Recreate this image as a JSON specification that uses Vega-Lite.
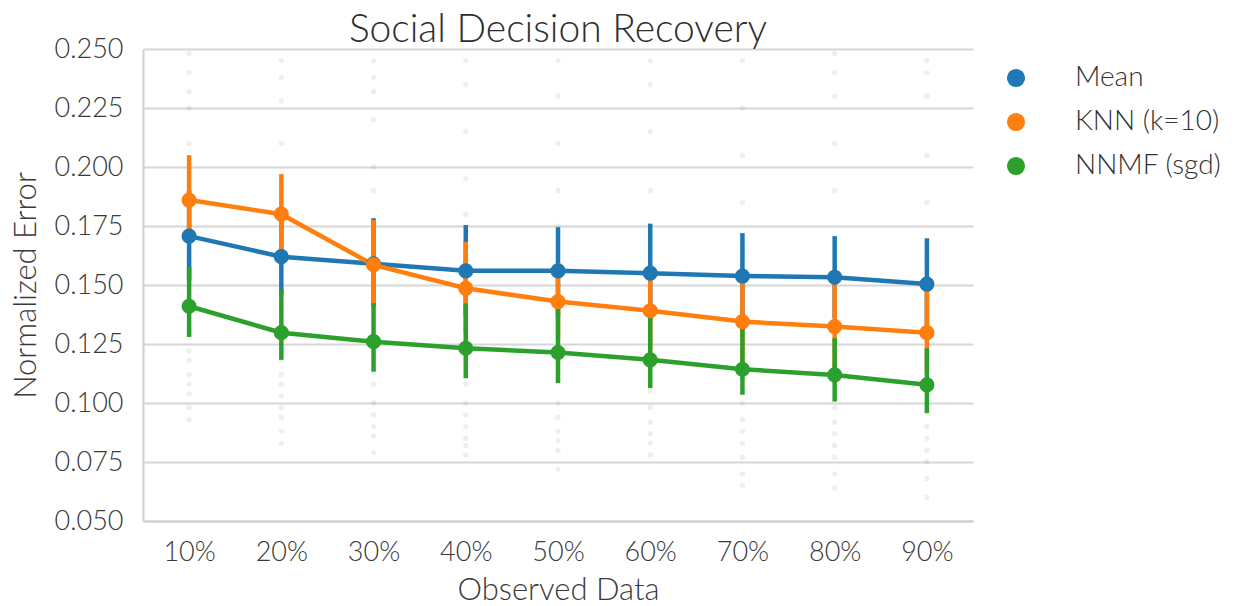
{
  "$schema": "https://vega.github.io/schema/vega-lite/v6.json",
  "width": 830,
  "height": 472,
  "autosize": {"type": "none"},
  "padding": {"left": 143, "top": 49, "right": 268, "bottom": 85},
  "background": "white",
  "title": {"text": "Social Decision Recovery", "fontSize": 39, "font": "Lato", "fontWeight": 300, "color": "#2e2e2e", "offset": 7, "dy": 22, "frame": "group"},
  "datasets": {
    "summary": [
      {"obs": "10%", "method": "Mean", "value": 0.1707, "lo": 0.152, "hi": 0.190},
      {"obs": "20%", "method": "Mean", "value": 0.1620, "lo": 0.146, "hi": 0.180},
      {"obs": "30%", "method": "Mean", "value": 0.1590, "lo": 0.141, "hi": 0.1783},
      {"obs": "40%", "method": "Mean", "value": 0.1560, "lo": 0.137, "hi": 0.1754},
      {"obs": "50%", "method": "Mean", "value": 0.1560, "lo": 0.137, "hi": 0.1745},
      {"obs": "60%", "method": "Mean", "value": 0.1550, "lo": 0.135, "hi": 0.1760},
      {"obs": "70%", "method": "Mean", "value": 0.1538, "lo": 0.136, "hi": 0.1720},
      {"obs": "80%", "method": "Mean", "value": 0.1533, "lo": 0.136, "hi": 0.1707},
      {"obs": "90%", "method": "Mean", "value": 0.1504, "lo": 0.132, "hi": 0.1698},
      {"obs": "10%", "method": "KNN (k=10)", "value": 0.1860, "lo": 0.1704, "hi": 0.2050},
      {"obs": "20%", "method": "KNN (k=10)", "value": 0.1800, "lo": 0.1640, "hi": 0.1970},
      {"obs": "30%", "method": "KNN (k=10)", "value": 0.1585, "lo": 0.1422, "hi": 0.1775},
      {"obs": "40%", "method": "KNN (k=10)", "value": 0.1486, "lo": 0.1300, "hi": 0.1683},
      {"obs": "50%", "method": "KNN (k=10)", "value": 0.1430, "lo": 0.1270, "hi": 0.1592},
      {"obs": "60%", "method": "KNN (k=10)", "value": 0.1391, "lo": 0.1230, "hi": 0.1556},
      {"obs": "70%", "method": "KNN (k=10)", "value": 0.1345, "lo": 0.1170, "hi": 0.1520},
      {"obs": "80%", "method": "KNN (k=10)", "value": 0.1324, "lo": 0.1150, "hi": 0.1514},
      {"obs": "90%", "method": "KNN (k=10)", "value": 0.1298, "lo": 0.1130, "hi": 0.1507},
      {"obs": "10%", "method": "NNMF (sgd)", "value": 0.1410, "lo": 0.1280, "hi": 0.1577},
      {"obs": "20%", "method": "NNMF (sgd)", "value": 0.1298, "lo": 0.1183, "hi": 0.1479},
      {"obs": "30%", "method": "NNMF (sgd)", "value": 0.1260, "lo": 0.1133, "hi": 0.1423},
      {"obs": "40%", "method": "NNMF (sgd)", "value": 0.1232, "lo": 0.1105, "hi": 0.1422},
      {"obs": "50%", "method": "NNMF (sgd)", "value": 0.1214, "lo": 0.1084, "hi": 0.1400},
      {"obs": "60%", "method": "NNMF (sgd)", "value": 0.1183, "lo": 0.1063, "hi": 0.1380},
      {"obs": "70%", "method": "NNMF (sgd)", "value": 0.1143, "lo": 0.1035, "hi": 0.1324},
      {"obs": "80%", "method": "NNMF (sgd)", "value": 0.1119, "lo": 0.1006, "hi": 0.1275},
      {"obs": "90%", "method": "NNMF (sgd)", "value": 0.1077, "lo": 0.0957, "hi": 0.1232}
    ],
    "raw": [
      {"obs": "10%", "value": 0.248}, {"obs": "10%", "value": 0.240}, {"obs": "10%", "value": 0.232}, {"obs": "10%", "value": 0.225}, {"obs": "10%", "value": 0.210}, {"obs": "10%", "value": 0.195}, {"obs": "10%", "value": 0.170}, {"obs": "10%", "value": 0.160}, {"obs": "10%", "value": 0.130}, {"obs": "10%", "value": 0.122}, {"obs": "10%", "value": 0.118}, {"obs": "10%", "value": 0.112}, {"obs": "10%", "value": 0.108}, {"obs": "10%", "value": 0.104}, {"obs": "10%", "value": 0.098}, {"obs": "10%", "value": 0.093},
      {"obs": "20%", "value": 0.245}, {"obs": "20%", "value": 0.238}, {"obs": "20%", "value": 0.228}, {"obs": "20%", "value": 0.210}, {"obs": "20%", "value": 0.190}, {"obs": "20%", "value": 0.185}, {"obs": "20%", "value": 0.165}, {"obs": "20%", "value": 0.140}, {"obs": "20%", "value": 0.118}, {"obs": "20%", "value": 0.112}, {"obs": "20%", "value": 0.108}, {"obs": "20%", "value": 0.103}, {"obs": "20%", "value": 0.098}, {"obs": "20%", "value": 0.094}, {"obs": "20%", "value": 0.088}, {"obs": "20%", "value": 0.083},
      {"obs": "30%", "value": 0.245}, {"obs": "30%", "value": 0.238}, {"obs": "30%", "value": 0.232}, {"obs": "30%", "value": 0.220}, {"obs": "30%", "value": 0.200}, {"obs": "30%", "value": 0.190}, {"obs": "30%", "value": 0.170}, {"obs": "30%", "value": 0.150}, {"obs": "30%", "value": 0.120}, {"obs": "30%", "value": 0.113}, {"obs": "30%", "value": 0.108}, {"obs": "30%", "value": 0.100}, {"obs": "30%", "value": 0.095}, {"obs": "30%", "value": 0.090}, {"obs": "30%", "value": 0.086}, {"obs": "30%", "value": 0.079},
      {"obs": "40%", "value": 0.245}, {"obs": "40%", "value": 0.235}, {"obs": "40%", "value": 0.215}, {"obs": "40%", "value": 0.195}, {"obs": "40%", "value": 0.180}, {"obs": "40%", "value": 0.160}, {"obs": "40%", "value": 0.130}, {"obs": "40%", "value": 0.115}, {"obs": "40%", "value": 0.108}, {"obs": "40%", "value": 0.100}, {"obs": "40%", "value": 0.095}, {"obs": "40%", "value": 0.090}, {"obs": "40%", "value": 0.085}, {"obs": "40%", "value": 0.082}, {"obs": "40%", "value": 0.078},
      {"obs": "50%", "value": 0.245}, {"obs": "50%", "value": 0.230}, {"obs": "50%", "value": 0.210}, {"obs": "50%", "value": 0.190}, {"obs": "50%", "value": 0.175}, {"obs": "50%", "value": 0.150}, {"obs": "50%", "value": 0.120}, {"obs": "50%", "value": 0.110}, {"obs": "50%", "value": 0.100}, {"obs": "50%", "value": 0.094}, {"obs": "50%", "value": 0.088}, {"obs": "50%", "value": 0.084}, {"obs": "50%", "value": 0.080}, {"obs": "50%", "value": 0.072},
      {"obs": "60%", "value": 0.245}, {"obs": "60%", "value": 0.235}, {"obs": "60%", "value": 0.215}, {"obs": "60%", "value": 0.190}, {"obs": "60%", "value": 0.170}, {"obs": "60%", "value": 0.140}, {"obs": "60%", "value": 0.115}, {"obs": "60%", "value": 0.105}, {"obs": "60%", "value": 0.098}, {"obs": "60%", "value": 0.092}, {"obs": "60%", "value": 0.087}, {"obs": "60%", "value": 0.083}, {"obs": "60%", "value": 0.078},
      {"obs": "70%", "value": 0.245}, {"obs": "70%", "value": 0.225}, {"obs": "70%", "value": 0.205}, {"obs": "70%", "value": 0.185}, {"obs": "70%", "value": 0.165}, {"obs": "70%", "value": 0.130}, {"obs": "70%", "value": 0.110}, {"obs": "70%", "value": 0.100}, {"obs": "70%", "value": 0.093}, {"obs": "70%", "value": 0.088}, {"obs": "70%", "value": 0.083}, {"obs": "70%", "value": 0.077}, {"obs": "70%", "value": 0.070}, {"obs": "70%", "value": 0.065},
      {"obs": "80%", "value": 0.248}, {"obs": "80%", "value": 0.240}, {"obs": "80%", "value": 0.230}, {"obs": "80%", "value": 0.210}, {"obs": "80%", "value": 0.190}, {"obs": "80%", "value": 0.170}, {"obs": "80%", "value": 0.125}, {"obs": "80%", "value": 0.105}, {"obs": "80%", "value": 0.098}, {"obs": "80%", "value": 0.092}, {"obs": "80%", "value": 0.087}, {"obs": "80%", "value": 0.082}, {"obs": "80%", "value": 0.077}, {"obs": "80%", "value": 0.070}, {"obs": "80%", "value": 0.064},
      {"obs": "90%", "value": 0.245}, {"obs": "90%", "value": 0.240}, {"obs": "90%", "value": 0.230}, {"obs": "90%", "value": 0.205}, {"obs": "90%", "value": 0.185}, {"obs": "90%", "value": 0.160}, {"obs": "90%", "value": 0.120}, {"obs": "90%", "value": 0.105}, {"obs": "90%", "value": 0.097}, {"obs": "90%", "value": 0.090}, {"obs": "90%", "value": 0.085}, {"obs": "90%", "value": 0.080}, {"obs": "90%", "value": 0.075}, {"obs": "90%", "value": 0.068}, {"obs": "90%", "value": 0.060}
    ]
  },
  "encoding": {
    "x": {
      "field": "obs", "type": "ordinal",
      "sort": ["10%", "20%", "30%", "40%", "50%", "60%", "70%", "80%", "90%"],
      "scale": {"type": "point", "padding": 0.5},
      "axis": {"title": "Observed Data", "labelAngle": 0, "labelFontSize": 27, "titleFontSize": 31, "labelFontWeight": 300, "titleFontWeight": 300, "ticks": false, "labelPadding": 18, "titlePadding": 10, "domainColor": "#d0d0d0", "domainWidth": 2, "grid": false}
    }
  },
  "layer": [
    {
      "data": {"name": "raw"},
      "mark": {"type": "circle", "size": 28, "color": "#8fae92", "opacity": 0.18},
      "encoding": {
        "y": {"field": "value", "type": "quantitative", "scale": {"domain": [0.05, 0.25], "zero": false, "nice": false},
          "axis": {"title": "Normalized Error", "values": [0.05, 0.075, 0.1, 0.125, 0.15, 0.175, 0.2, 0.225, 0.25], "format": ".3f", "labelFontSize": 27, "titleFontSize": 31, "labelFontWeight": 300, "titleFontWeight": 300, "ticks": false, "labelPadding": 20, "titlePadding": 12, "gridColor": "#d6d6d6", "gridWidth": 2, "domainColor": "#d0d0d0", "domainWidth": 2}}
      }
    },
    {
      "data": {"name": "summary"},
      "mark": {"type": "rule", "strokeWidth": 4.5},
      "encoding": {
        "y": {"field": "lo", "type": "quantitative"},
        "y2": {"field": "hi"},
        "color": {"field": "method", "type": "nominal", "scale": {"domain": ["Mean", "KNN (k=10)", "NNMF (sgd)"], "range": ["#1f77b4", "#ff7f0e", "#2ca02c"]}}
      }
    },
    {
      "data": {"name": "summary"},
      "mark": {"type": "line", "strokeWidth": 4.5},
      "encoding": {
        "y": {"field": "value", "type": "quantitative"},
        "color": {"field": "method", "type": "nominal"}
      }
    },
    {
      "data": {"name": "summary"},
      "mark": {"type": "circle", "size": 230, "opacity": 1},
      "encoding": {
        "y": {"field": "value", "type": "quantitative"},
        "color": {"field": "method", "type": "nominal"}
      }
    }
  ],
  "resolve": {"scale": {"color": "shared", "y": "shared"}},
  "config": {
    "font": "Lato",
    "view": {"stroke": null},
    "axis": {"labelFont": "Lato", "titleFont": "Lato", "labelColor": "#3a3a3a", "titleColor": "#3a3a3a"},
    "legend": {
      "title": null, "orient": "none", "legendX": 859, "legendY": 15,
      "labelFontSize": 28, "labelFont": "Lato", "labelFontWeight": 300, "labelColor": "#333333",
      "symbolSize": 330, "symbolType": "circle", "labelOffset": 45, "rowPadding": 16,
      "symbolStrokeWidth": 0, "symbolOpacity": 1
    }
  }
}
